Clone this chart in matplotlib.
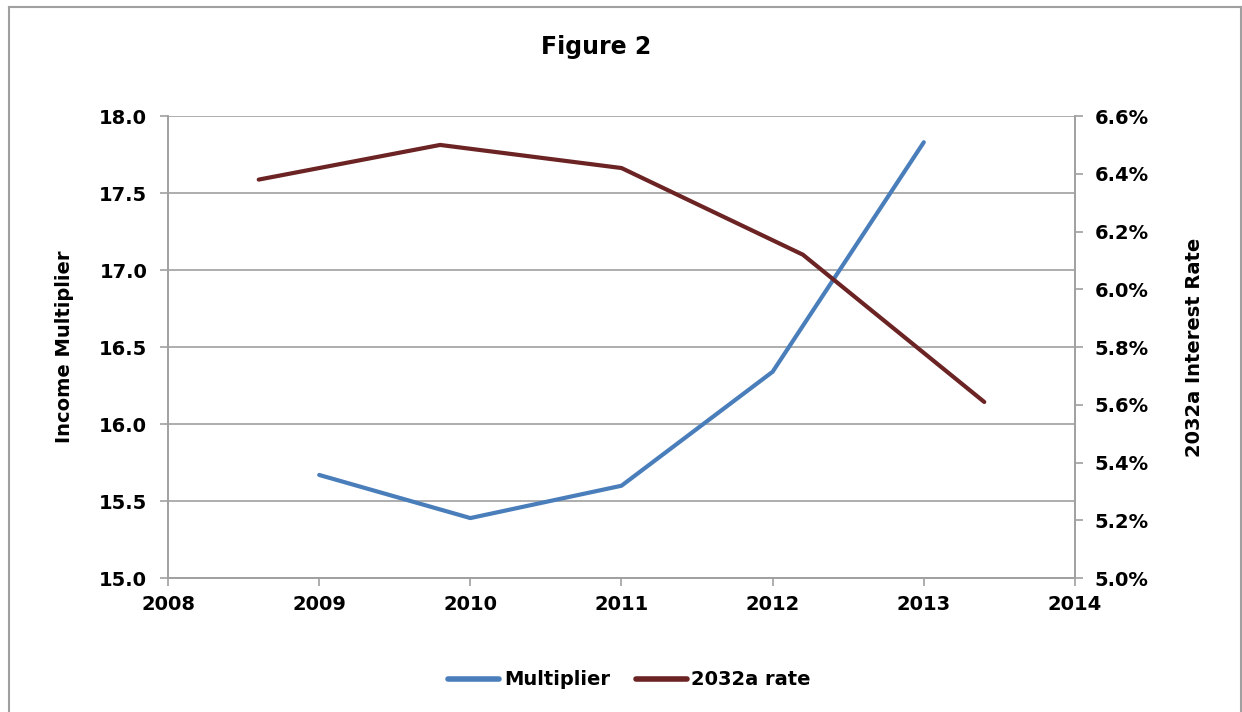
import matplotlib.pyplot as plt
from matplotlib.lines import Line2D
from matplotlib.ticker import FuncFormatter, MultipleLocator

plt.rcParams['font.family'] = ['DejaVu Sans']
plt.rcParams['font.weight'] = 'bold'

# data
mult_years = [2009, 2010, 2011, 2012, 2013]
multiplier = [15.67, 15.39, 15.60, 16.34, 17.83]
rate_years = [2008.6, 2009.8, 2011.0, 2012.2, 2013.4]
rate_2032a = [6.38, 6.50, 6.42, 6.12, 5.61]

blue = '#4a7ebb'
brown = '#6b2323'
grey = '#a0a0a0'

fig = plt.figure(figsize=(12.42, 7.12), dpi=100)
ax = fig.add_axes([0.1353, 0.188, 0.7302, 0.649])
ax2 = ax.twinx()

ax.plot(mult_years, multiplier, color=blue, lw=3, solid_capstyle='round', zorder=3)
ax2.plot(rate_years, rate_2032a, color=brown, lw=3, solid_capstyle='round', zorder=3)

ax.set_xlim(2008, 2014)
ax.set_ylim(15.0, 18.0)
ax2.set_ylim(5.0, 6.6)
ax.xaxis.set_major_locator(MultipleLocator(1))
ax.yaxis.set_major_locator(MultipleLocator(0.5))
ax2.yaxis.set_major_locator(MultipleLocator(0.2))
ax.yaxis.set_major_formatter(FuncFormatter(lambda v, p: f'{v:.1f}'))
ax2.yaxis.set_major_formatter(FuncFormatter(lambda v, p: f'{v:.1f}%'))
ax.xaxis.set_major_formatter(FuncFormatter(lambda v, p: f'{int(v)}'))

ax.grid(axis='y', color=grey, lw=1.2)
ax.set_axisbelow(True)
for a in (ax, ax2):
    a.spines['top'].set_visible(False)
    for s in ('left', 'right', 'bottom'):
        a.spines[s].set_color(grey)
        a.spines[s].set_linewidth(1.2)
    a.tick_params(colors=grey, labelcolor='black', labelsize=14, length=6, width=1.2)
ax.tick_params(axis='y', pad=9)
ax2.tick_params(axis='y', pad=8)
ax.tick_params(axis='x', pad=6)

ax.set_ylabel('Income Multiplier', fontsize=14, fontweight='bold', labelpad=18)
ax2.set_ylabel('2032a Interest Rate', fontsize=14, fontweight='bold', labelpad=26)

fig.text(0.48, 0.934, 'Figure 2', ha='center', va='center', fontsize=17, fontweight='bold')

handles = [Line2D([], [], color=blue, lw=4, solid_capstyle='round'),
           Line2D([], [], color=brown, lw=4, solid_capstyle='round')]
fig.legend(handles, ['Multiplier', '2032a rate'], loc='center', bbox_to_anchor=(0.507, 0.045),
           ncol=2, frameon=False, fontsize=14, handlelength=2.6, handletextpad=0.25, columnspacing=1.35)

# outer chart border
fig.add_artist(Line2D([0.0072, 0.0072], [0.0, 0.99], transform=fig.transFigure, color=grey, lw=1.5))
fig.add_artist(Line2D([0.0072, 0.999], [0.99, 0.99], transform=fig.transFigure, color=grey, lw=1.5))
fig.add_artist(Line2D([0.999, 0.999], [0.0, 0.99], transform=fig.transFigure, color=grey, lw=1.5))

plt.savefig('out.png', dpi=100)
